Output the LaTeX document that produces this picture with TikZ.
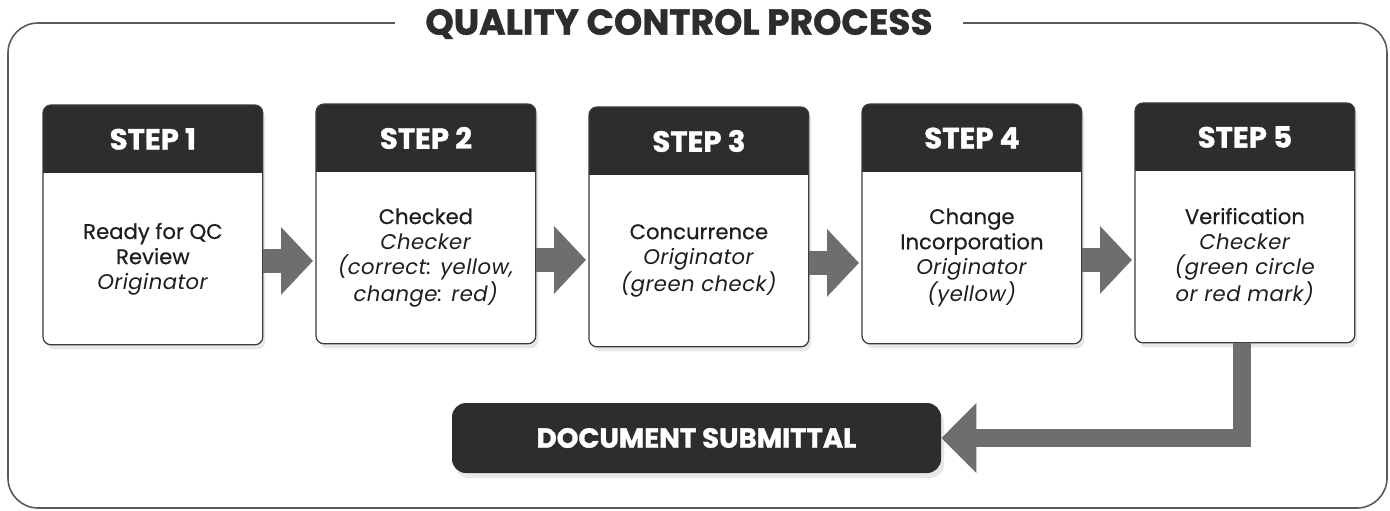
\documentclass[tikz,border=0pt]{standalone}
\usepackage{fontspec}
\setmainfont{Poppins}
\newfontfamily\medfont{Poppins}[FakeBold=0.5]
\newfontfamily\heavyfont{Poppins}[FakeBold=1.2]
\usetikzlibrary{arrows.meta,shadows,calc}
\definecolor{hdr}{HTML}{2D2D2D}
\definecolor{arrowgray}{HTML}{6E6E6E}
\definecolor{framegray}{HTML}{5A5A5A}
\definecolor{edge}{HTML}{3A3A3A}
\definecolor{bodyink}{HTML}{1E1E1E}

\newcommand\qcstep[5]{%
  \node[stepframe, anchor=north west] (#1) at (#2,#3) {};
  \begin{scope}
    \clip[rounded corners=4pt] (#1.north west) rectangle (#1.south east);
    \fill[hdr] (#1.north west) rectangle ($(#1.north east)+(0,68)$);
  \end{scope}
  \draw[edge, line width=0.6pt, rounded corners=4pt] (#1.north west) rectangle (#1.south east);
  \node[hdrtext] (#1h) at ($(#1.north)+(0,34)$) {STEP #4};
  \node[bodytext] (#1b) at ($(#1.center)+(0,34)$) {#5};
}
\newcommand\qcmain[1]{{\medfont #1}}
\newcommand\qcrole[1]{\textit{\addfontfeatures{LetterSpace=2}#1}}

\begin{document}
\begin{tikzpicture}[x=0.5pt,y=-0.5pt,
  stepframe/.style={fill=white, draw=none, rounded corners=4pt, inner sep=0pt,
    minimum width=109.5pt, minimum height=119.5pt,
    drop shadow={opacity=0.18, shadow xshift=1.5pt, shadow yshift=-2.5pt}},
  hdrtext/.style={text=white, font=\heavyfont\bfseries\fontsize{14.6}{16}\selectfont, inner sep=0pt},
  bodytext/.style={text=bodyink, align=center, inner sep=0pt,
    font=\fontsize{10.6}{12.6}\selectfont},
  flowarrow/.style={draw=arrowgray, line width=12pt,
    -{Triangle[width=33pt,length=16pt]}, shorten >=1.5pt},
  backarrow/.style={draw=arrowgray, line width=9pt, line join=miter,
    -{Triangle[width=34pt,length=17.5pt]}},
  docbox/.style={fill=hdr, text=white, rounded corners=7pt,
    minimum width=244.5pt, minimum height=35pt, inner sep=0pt,
    font=\heavyfont\bfseries\fontsize{13.8}{15}\selectfont,
    drop shadow={opacity=0.18, shadow xshift=1.5pt, shadow yshift=-2.5pt}},
  titletext/.style={text=hdr, fill=white, inner xsep=15pt, inner ysep=2pt,
    font=\heavyfont\bfseries\fontsize{18}{21}\selectfont}
]
\useasboundingbox (0,0) rectangle (1390,510);
\fill[white] (0,0) rectangle (1390,510);

% outer frame
\draw[framegray, line width=0.8pt, rounded corners=15pt] (8,23) rectangle (1387,508);
\node[titletext] (title) at (679,24) {QUALITY CONTROL PROCESS};

% steps
\qcstep{s1}{43}{105}{1}{\qcmain{Ready for QC}\\\qcmain{Review}\\\qcrole{Originator}}
\qcstep{s2}{316}{104}{2}{\qcmain{Checked}\\\qcrole{Checker}\\\qcrole{(correct: yellow,}\\\qcrole{change: red)}}
\qcstep{s3}{589}{107}{3}{\qcmain{Concurrence}\\\qcrole{Originator}\\\qcrole{(green check)}}
\qcstep{s4}{862}{104}{4}{\qcmain{Change}\\\qcmain{Incorporation}\\\qcrole{Originator}\\\qcrole{(yellow)}}
\qcstep{s5}{1135}{103}{5}{\qcmain{Verification}\\\qcrole{Checker}\\\qcrole{(green circle}\\\qcrole{or red mark)}}

% document submittal
\node[docbox] (doc) at (696.5,438) {DOCUMENT SUBMITTAL};

% connectors
\draw[flowarrow] ([yshift=-18pt]s1.east) -- ([yshift=-18pt]s1.east -| s2.west);
\draw[flowarrow] ([yshift=-18pt]s2.east) -- ([yshift=-18pt]s2.east -| s3.west);
\draw[flowarrow] ([yshift=-18pt]s3.east) -- ([yshift=-18pt]s3.east -| s4.west);
\draw[flowarrow] ([yshift=-18pt]s4.east) -- ([yshift=-18pt]s4.east -| s5.west);
\draw[backarrow] ([xshift=-1.25pt]s5.south) |- (doc.east);
\end{tikzpicture}
\end{document}
